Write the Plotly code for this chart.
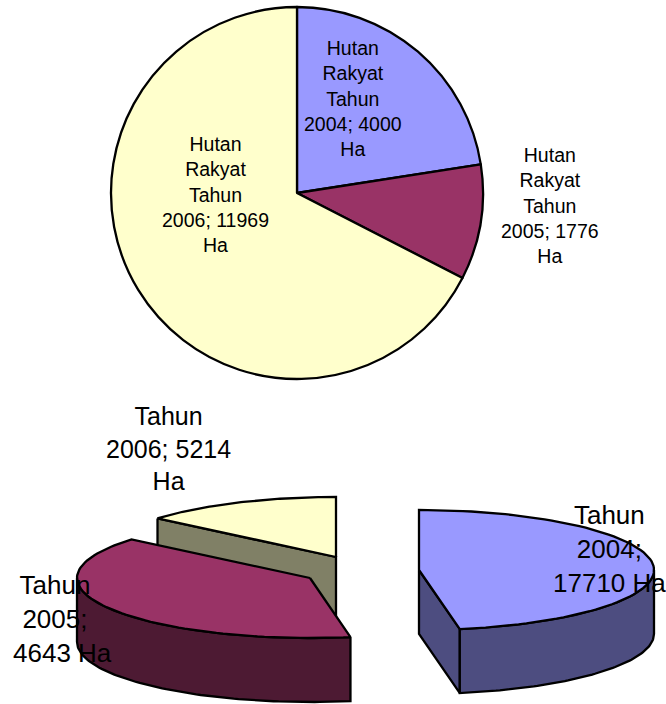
import numpy as np
import plotly.graph_objects as go

W, H = 666, 704

# --- data: upper pie
top_years = ["2004", "2005", "2006"]
top_values = [4000, 1776, 11969]
top_colors = ["#9999FF", "#993366", "#FFFFCC"]
top_label_xy = [(353, 98), (550, 205), (215.5, 194)]
top_label_fmt = "Hutan<br>Rakyat<br>Tahun<br>{y}; {v}<br>Ha"

# --- data: lower exploded pie
low_years = ["2004", "2005", "2006"]
low_values = [17710, 4643, 5214]
low_sweeps_deg = [170, 140, 50]
low_colors = ["#9999FF", "#993366", "#FFFFCC"]
low_wall_colors = ["#4D4D80", "#4D1A33", "#808066"]
low_centers = [(419, 570), (310, 578), (336, 557)]
low_rx = [235, 233, 233]
low_label_xy = [(609, 549), (62, 619), (168, 448)]
low_label_size = [26, 26, 25]
low_label_breaks = [
    "Tahun<br>{y};<br>{v} Ha",
    "Tahun\u00a0\u00a0<br>{y};\u00a0\u00a0<br>{v} Ha",
    "Tahun<br>{y}; {v}<br>Ha",
]
RY, DEPTH = 60, 64
EDGE = 2.3

fig = go.Figure()


def rim(center, rx, a0, a1, dz=0, n=80):
    a = np.radians(np.linspace(a0, a1, n))
    return center[0] + rx * np.sin(a), center[1] - RY * np.cos(a) + dz


def poly(xs, ys, color):
    fig.add_trace(go.Scatter(
        x=list(xs) + [xs[0]], y=list(ys) + [ys[0]], mode="lines",
        fill="toself", fillcolor=color,
        line=dict(color="black", width=EDGE), hoverinfo="skip", showlegend=False,
    ))


starts = np.concatenate([[0], np.cumsum(low_sweeps_deg)[:-1]])
ends = np.cumsum(low_sweeps_deg)

# painter's order: yellow (back), maroon, blue
for i in [2, 1, 0]:
    c, rx, a0, a1 = low_centers[i], low_rx[i], float(starts[i]), float(ends[i])
    # flat radial wall that faces the viewer
    if i == 2:
        x0, y0 = rim(c, rx, a0, a0, n=1)
        poly([x0[0], c[0], c[0], x0[0]],
             [y0[0], c[1], c[1] + DEPTH, y0[0] + DEPTH], low_wall_colors[i])
    if i == 0:
        x1, y1 = rim(c, rx, a1, a1, n=1)
        poly([c[0], x1[0], x1[0], c[0]],
             [c[1], y1[0], y1[0] + DEPTH, c[1] + DEPTH], low_wall_colors[i])
    # curved outer wall on the near half of the rim
    w0, w1 = max(a0, 90.0), min(a1, 270.0)
    if w1 > w0:
        xt, yt = rim(c, rx, w0, w1)
        xb, yb = rim(c, rx, w1, w0, dz=DEPTH)
        poly(np.r_[xt, xb], np.r_[yt, yb], low_wall_colors[i])
    # top face
    xt, yt = rim(c, rx, a0, a1)
    poly(np.r_[c[0], xt], np.r_[c[1], yt], low_colors[i])

fig.add_trace(go.Pie(
    labels=top_years, values=top_values, sort=False, direction="clockwise",
    rotation=0, textinfo="none", hoverinfo="skip", showlegend=False,
    marker=dict(colors=top_colors, line=dict(color="black", width=EDGE)),
    domain=dict(x=[(297 - 186) / W, (297 + 186) / W],
                y=[1 - 379 / H, 1 - 7 / H]),
))

annotations = []
for y, v, (ax, ay) in zip(top_years, top_values, top_label_xy):
    annotations.append(dict(x=ax, y=ay, text=top_label_fmt.format(y=y, v=v),
                            font=dict(size=19.5)))
for y, v, fmt, (ax, ay), s in zip(low_years, low_values, low_label_breaks,
                                  low_label_xy, low_label_size):
    annotations.append(dict(x=ax, y=ay, text=fmt.format(y=y, v=v),
                            font=dict(size=s)))
for a in annotations:
    a.update(xref="x", yref="y", showarrow=False, xanchor="center",
             yanchor="middle", align="center")
    a["font"].update(family="Liberation Sans, Arial, sans-serif", color="black")

fig.update_layout(
    width=W, height=H, margin=dict(l=0, r=0, t=0, b=0),
    paper_bgcolor="white", plot_bgcolor="white", showlegend=False,
    xaxis=dict(range=[0, W], visible=False, fixedrange=True),
    yaxis=dict(range=[H, 0], visible=False, fixedrange=True),
    annotations=annotations,
)
fig.write_html("out.html", config={"displayModeBar": False},
               post_script="document.body.style.margin='0';document.body.style.overflow='hidden';")
